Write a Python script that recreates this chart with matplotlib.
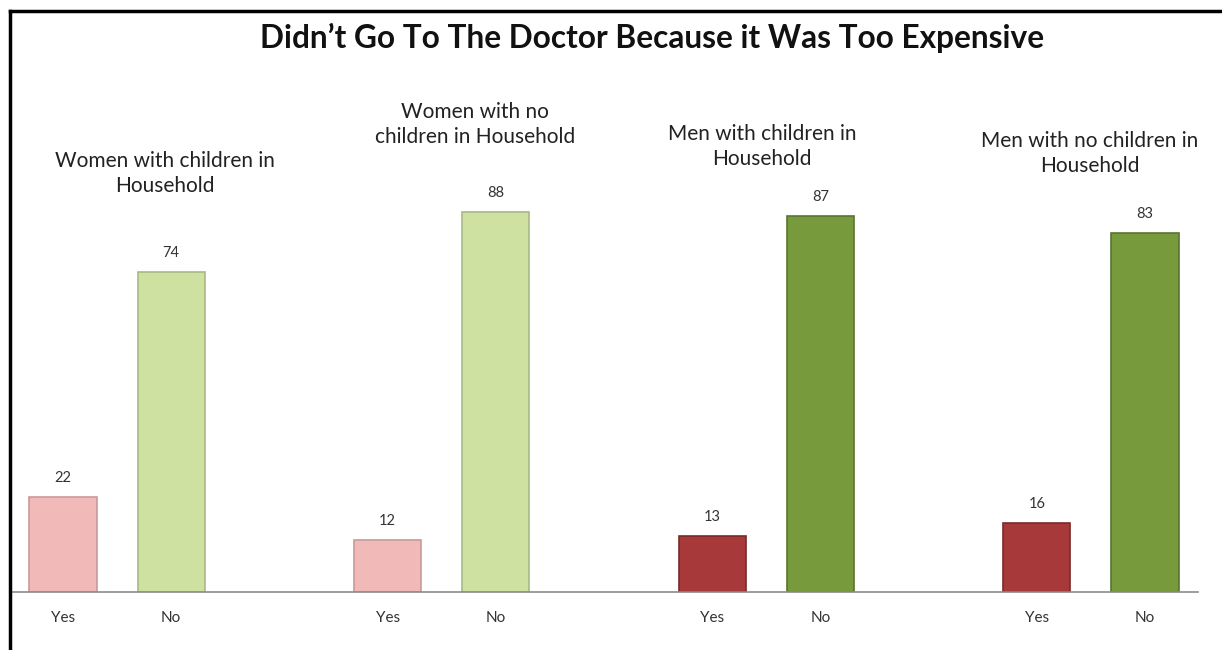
import matplotlib
matplotlib.use('Agg')
import matplotlib.pyplot as plt
from matplotlib.lines import Line2D

groups = ["Women with children in\nHousehold",
          "Women with no\nchildren in Household",
          "Men with children in\nHousehold",
          "Men with no children in\nHousehold"]
yes_vals = [22, 12, 13, 16]
no_vals = [74, 88, 87, 83]
yes_colors = ["#f2b9b9", "#f2b9b9", "#a8393a", "#a8393a"]
no_colors = ["#cfe1a0", "#cfe1a0", "#779a3d", "#779a3d"]
yes_edges = ["#c99a9a", "#c99a9a", "#7a2a2a", "#7a2a2a"]
no_edges = ["#a9b984", "#a9b984", "#5a7430", "#5a7430"]

plt.rcParams['font.family'] = ['Lato', 'DejaVu Sans']

fig = plt.figure(figsize=(12.22, 6.5), dpi=100)
W, H = 1222.0, 650.0
ax = fig.add_axes([10 / W, (H - 592) / H, 1188 / W, 582 / H])

xs_yes = [3 * i for i in range(len(groups))]
xs_no = [3 * i + 1 for i in range(len(groups))]
bw = 0.62

ax.bar(xs_yes, yes_vals, width=bw, color=yes_colors, edgecolor=yes_edges, linewidth=1.2, zorder=2)
ax.bar(xs_no, no_vals, width=bw, color=no_colors, edgecolor=no_edges, linewidth=1.2, zorder=2)

# value labels
for x, v in zip(xs_yes + xs_no, yes_vals + no_vals):
    ax.text(x, v + 2.8, str(v), ha='center', va='bottom', fontsize=10.5, color='#333333')

# group captions (placed roughly like the original)
label_pos = [(0.94, 96.8), (3.81, 108.2), (6.46, 103.2), (9.49, 101.4)]
for (x, y), g in zip(label_pos, groups):
    ax.text(x, y, g, ha='center', va='center', fontsize=15, color='#222222',
            linespacing=1.3)

ax.set_xlim(-0.49, 10.49)
ax.set_ylim(0, 134.7)
ax.set_xticks(xs_yes + xs_no)
ax.set_xticklabels(["Yes"] * 4 + ["No"] * 4, fontsize=11, color='#333333')
ax.tick_params(axis='x', length=0, pad=14)
ax.set_yticks([])
for s in ['top', 'right', 'left']:
    ax.spines[s].set_visible(False)
ax.spines['bottom'].set_color('#8c8c8c')
ax.spines['bottom'].set_linewidth(1.2)

fig.text(652 / W, 1 - 38 / H, "Didn\u2019t Go To The Doctor Because it Was Too Expensive",
         ha='center', va='center', fontsize=22.8, fontweight='bold', color='#111111')

# black frame on top and left
fig.add_artist(Line2D([10 / W, 1.0], [1 - 11 / H, 1 - 11 / H], color='black', linewidth=2.5,
                      transform=fig.transFigure))
fig.add_artist(Line2D([10 / W, 10 / W], [0, 1 - 11 / H], color='black', linewidth=2.5,
                      transform=fig.transFigure))

fig.savefig("out.png", dpi=100)
